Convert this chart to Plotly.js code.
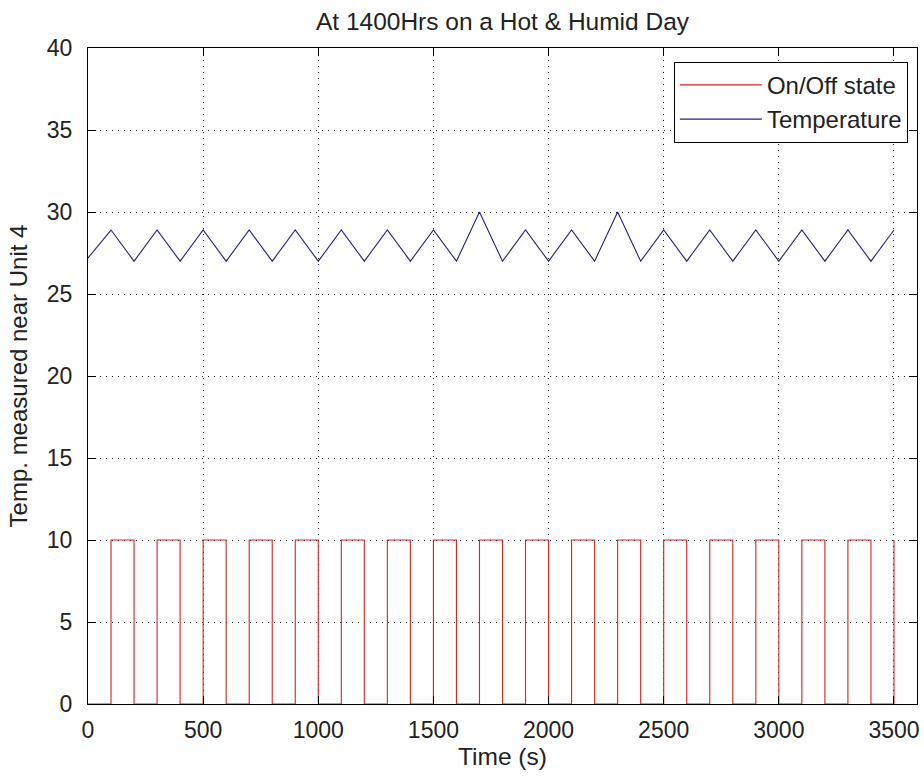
<!DOCTYPE html>
<html>
<head>
<meta charset="utf-8">
<script src="https://cdn.plot.ly/plotly-3.0.1.min.js"></script>
<style>html,body{margin:0;padding:0;background:#fff;}#chart{width:924px;height:780px;}</style>
</head>
<body>
<div id="chart"></div>
<script>
// Temperature series (sampled at each switching instant)
var tempTime = [0,100,200,300,400,500,600,700,800,900,1000,1100,1200,1300,1400,1500,1600,1700,1800,1900,2000,2100,2200,2300,2400,2500,2600,2700,2800,2900,3000,3100,3200,3300,3400,3500];
var tempValues = [27.2,28.9,27,28.9,27,28.9,27,28.9,27,28.9,27,28.9,27,28.9,27,28.9,27,30,27,28.9,27,28.9,27,30,27,28.9,27,28.9,27,28.9,27,28.9,27,28.9,27,28.9];

// On/Off state (step changes)
var stateTime = [0,100,200,300,400,500,600,700,800,900,1000,1100,1200,1300,1400,1500,1600,1700,1800,1900,2000,2100,2200,2300,2400,2500,2600,2700,2800,2900,3000,3100,3200,3300,3400,3500];
var stateValues = [0,10,0,10,0,10,0,10,0,10,0,10,0,10,0,10,0,10,0,10,0,10,0,10,0,10,0,10,0,10,0,10,0,10,0,10];

var xTicks = [0,500,1000,1500,2000,2500,3000,3500];
var yTicks = [0,5,10,15,20,25,30,35,40];

var FONT = '"Liberation Sans", Arial, Helvetica, sans-serif';

var traces = [
  {x: stateTime, y: stateValues, type: 'scatter', mode: 'lines', name: 'On/Off state',
   line: {color: '#d42424', width: 1.1, shape: 'hv'}},
  {x: tempTime, y: tempValues, type: 'scatter', mode: 'lines', name: 'Temperature',
   line: {color: '#23237e', width: 1.1}}
];

var axisCommon = {
  showline: true, linecolor: '#000', linewidth: 1, mirror: 'ticks', layer: 'above traces',
  ticks: 'inside', ticklen: 8, tickcolor: '#000', tickwidth: 1,
  showgrid: true, gridcolor: '#222', gridwidth: 1, griddash: '1px,5px',
  zeroline: false, tickfont: {family: FONT, size: 23, color: '#222'}
};

var layout = {
  width: 924, height: 780,
  margin: {l: 88, r: 7, t: 48, b: 76},
  paper_bgcolor: '#fff', plot_bgcolor: '#fff',
  font: {family: FONT, color: '#222'},
  title: {text: 'At 1400Hrs on a Hot &amp; Humid Day', font: {family: FONT, size: 24.5, color: '#222'},
          x: 0.5, xref: 'paper', xanchor: 'center', y: 0.972, yref: 'container', yanchor: 'middle'},
  xaxis: Object.assign({}, axisCommon, {
    range: [0, 3600], tickvals: xTicks, ticktext: xTicks.map(String), ticklabelstandoff: 5,
    title: {text: 'Time (s)', font: {family: FONT, size: 24.5, color: '#222'}, standoff: 6}
  }),
  yaxis: Object.assign({}, axisCommon, {
    range: [0, 40], tickvals: yTicks, ticktext: yTicks.map(String), ticklabelstandoff: 10,
    title: {text: 'Temp. measured near Unit 4', font: {family: FONT, size: 24, color: '#222'}, standoff: 12}
  }),
  showlegend: true,
  legend: {x: 0.989, xanchor: 'right', y: 0.979, yanchor: 'top', bgcolor: '#fff',
           bordercolor: '#000', borderwidth: 1, itemwidth: 82,
           font: {family: FONT, size: 24, color: '#222'}, tracegroupgap: 0}
};

Plotly.newPlot('chart', traces, layout, {staticPlot: true, displayModeBar: false});
</script>
</body>
</html>
